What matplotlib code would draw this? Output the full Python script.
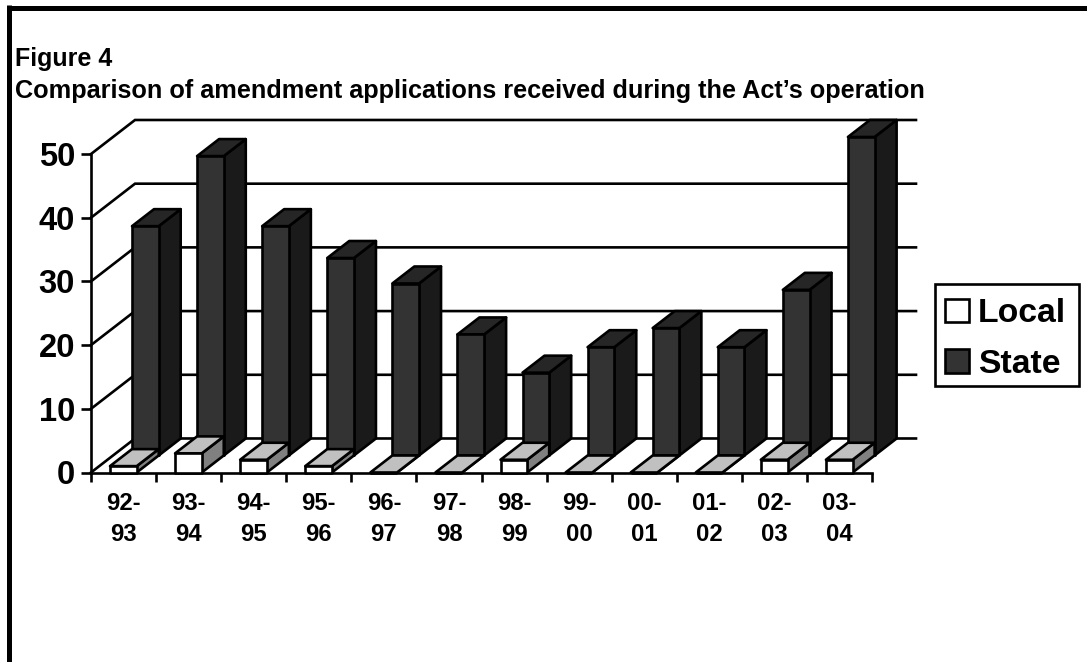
import matplotlib
matplotlib.use("Agg")
import matplotlib.pyplot as plt
from matplotlib.lines import Line2D
from matplotlib.patches import Patch, Polygon, Rectangle

plt.rcParams['font.family'] = ['Liberation Sans', 'DejaVu Sans']
plt.rcParams['font.weight'] = 'bold'

periods = ['92-\n93', '93-\n94', '94-\n95', '95-\n96', '96-\n97', '97-\n98',
           '98-\n99', '99-\n00', '00-\n01', '01-\n02', '02-\n03', '03-\n04']
local = [1, 3, 2, 1, 0, 0, 2, 0, 0, 0, 2, 2]
state = [36, 47, 36, 31, 27, 19, 13, 17, 20, 17, 26, 50]
y_ticks = [0, 10, 20, 30, 40, 50]

W, H = 1087, 662
fig = plt.figure(figsize=(W / 100, H / 100), dpi=100, facecolor='white')
ax = fig.add_axes([91 / W, 1 - 472.5 / H, 781 / W, 318.5 / H], facecolor='none')
ax.set_xlim(0, 12)
ax.set_ylim(0, 50)

# oblique projection: one series slot of depth, in data units
DX, DY = 0.338, 2.67
BAR_LEFT, BAR_W = 0.292, 0.41
LW = 1.9


def face(pts, color, z):
    ax.add_patch(Polygon(pts, closed=True, facecolor=color, edgecolor='black',
                         linewidth=LW, joinstyle='round', clip_on=False, zorder=z))


def bar3d(i, value, slot, front, side, top, z):
    x0 = i + BAR_LEFT + slot * DX
    x1 = x0 + BAR_W
    y0 = slot * DY
    y1 = y0 + value
    face([(x1, y0), (x1 + DX, y0 + DY), (x1 + DX, y1 + DY), (x1, y1)], side, z)
    face([(x0, y1), (x1, y1), (x1 + DX, y1 + DY), (x0 + DX, y1 + DY)], top, z)
    face([(x0, y0), (x1, y0), (x1, y1), (x0, y1)], front, z)


# grid: floor/side diagonal then back-wall line
for v in y_ticks:
    ax.plot([0, 2 * DX, 12 + 2 * DX], [v, v + 2 * DY, v + 2 * DY], color='black',
            lw=LW, clip_on=False, zorder=1, solid_joinstyle='miter')

for i, v in enumerate(state):
    bar3d(i, v, 1, '#333333', '#1a1a1a', '#262626', 3)
for i, v in enumerate(local):
    bar3d(i, v, 0, 'white', '#808080', '#c0c0c0', 4)

for s in ('top', 'right'):
    ax.spines[s].set_visible(False)
for s in ('left', 'bottom'):
    ax.spines[s].set_linewidth(LW)
    ax.spines[s].set_zorder(2)

ax.set_yticks(y_ticks)
ax.tick_params(axis='y', length=7, width=LW, pad=4.5, labelsize=23.6)
for lab in ax.get_yticklabels():
    lab.set_va('center_baseline')
ax.set_xticks(range(13))
ax.set_xticklabels([])
ax.tick_params(axis='x', which='major', length=6.5, width=LW)
ax.set_xticks([i + 0.5 for i in range(12)], minor=True)
ax.set_xticklabels(periods, minor=True, fontsize=17.2, linespacing=1.45)
ax.tick_params(axis='x', which='minor', length=0, pad=14)

fig.add_artist(Rectangle((934.5 / W, 1 - 385.5 / H), 144.5 / W, 101.5 / H,
                         transform=fig.transFigure, facecolor='white',
                         edgecolor='black', linewidth=LW, zorder=-1))
handles = [Patch(facecolor='white', edgecolor='black', linewidth=LW, label='Local'),
           Patch(facecolor='#333333', edgecolor='black', linewidth=LW, label='State')]
leg = ax.legend(handles=handles, loc='upper left',
                bbox_to_anchor=(945 / W, 1 - 298.5 / H), bbox_transform=fig.transFigure,
                fontsize=24.3, frameon=False, borderaxespad=0, borderpad=0,
                handlelength=0.7, handleheight=0.7, handletextpad=0.27,
                labelspacing=0.57)
leg.set_zorder(6)

fig.text(15 / W, 1 - 66 / H, 'Figure 4', fontsize=18, fontweight='bold', va='baseline')
fig.text(15 / W, 1 - 98 / H, 'Comparison of amendment applications received during the Act\u2019s operation',
         fontsize=18.2, fontweight='bold', va='baseline')

# outer frame: top and left only
fig.add_artist(Line2D([8.5 / W, 1], [1 - 7.5 / H, 1 - 7.5 / H], color='black', lw=3.6,
                      solid_capstyle='butt'))
fig.add_artist(Line2D([8.5 / W, 8.5 / W], [1 - 5 / H, 0], color='black', lw=3.6,
                      solid_capstyle='butt'))

fig.savefig('out.png', dpi=100, facecolor='white')
